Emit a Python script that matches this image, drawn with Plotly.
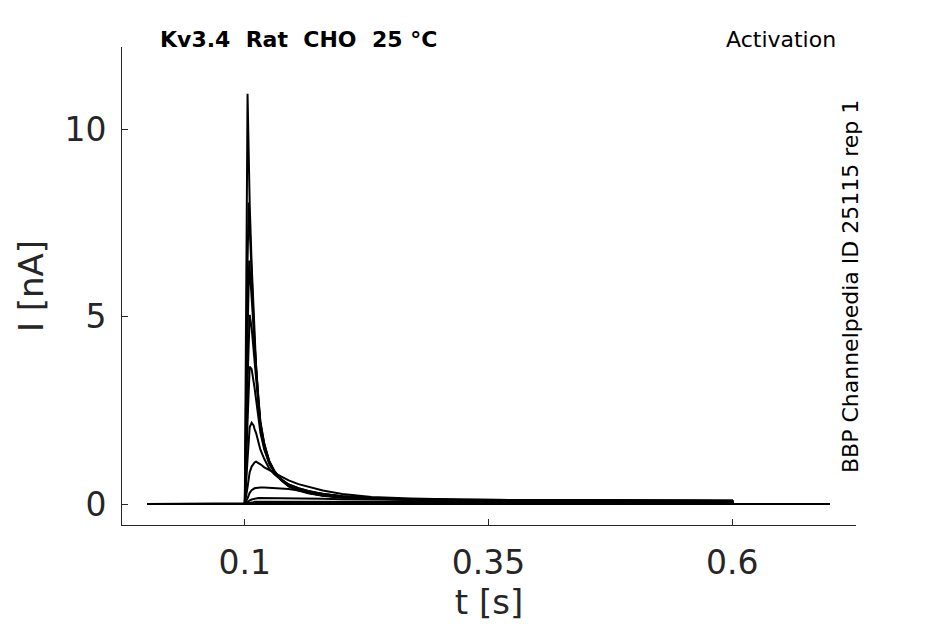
import plotly.graph_objects as go

# sample times [s] shared by all sweeps
TIME = [0.0, 0.1, 0.1028, 0.104, 0.1045, 0.105, 0.107, 0.109, 0.110, 0.1115,
        0.114, 0.116, 0.12, 0.125, 0.13, 0.137, 0.145, 0.155, 0.165, 0.18,
        0.2, 0.23, 0.27, 0.32, 0.4, 0.5, 0.6, 0.6005, 0.65, 0.7]

# current [nA] per sweep
sweep_01 = [0] * 30
sweep_02 = [0, 0, 0.01, 0.01, 0.01, 0.01, 0.02, 0.02, 0.02, 0.02, 0.02, 0.02, 0.02, 0.02, 0.02,
            0.02, 0.02, 0.02, 0.02, 0.02, 0.02, 0.02, 0.02, 0.02, 0.02, 0.02, 0.02, 0, 0, 0]
sweep_03 = [0, 0, 0.02, 0.03, 0.03, 0.04, 0.05, 0.05, 0.06, 0.06, 0.06, 0.06, 0.06, 0.06, 0.06,
            0.06, 0.06, 0.06, 0.06, 0.06, 0.06, 0.06, 0.06, 0.06, 0.05, 0.05, 0.05, 0, 0, 0]
sweep_04 = [0, 0, 0.05, 0.08, 0.09, 0.1, 0.12, 0.14, 0.15, 0.15, 0.16, 0.16, 0.16, 0.16, 0.16,
            0.16, 0.16, 0.15, 0.15, 0.14, 0.13, 0.12, 0.11, 0.1, 0.09, 0.08, 0.08, 0, 0, 0]
sweep_05 = [0, 0, 0.15, 0.25, 0.28, 0.3, 0.37, 0.41, 0.42, 0.43, 0.44, 0.44, 0.44, 0.43, 0.43,
            0.42, 0.4, 0.36, 0.32, 0.26, 0.2, 0.15, 0.12, 0.1, 0.09, 0.08, 0.08, 0, 0, 0]
sweep_06 = [0, 0, 0.45, 0.7, 0.78, 0.85, 1.0, 1.08, 1.11, 1.13, 1.1, 1.06, 0.98, 0.9, 0.84,
            0.74, 0.63, 0.53, 0.46, 0.36, 0.27, 0.19, 0.15, 0.12, 0.1, 0.09, 0.09, 0, 0, 0]
sweep_07 = [0, 0, 1.2, 1.8, 1.95, 2.05, 2.17, 2.1, 2.0, 1.9, 1.65, 1.45, 1.2, 0.95, 0.8,
            0.65, 0.52, 0.42, 0.35, 0.27, 0.21, 0.16, 0.13, 0.11, 0.1, 0.09, 0.09, 0, 0, 0]
sweep_08 = [0, 0, 2.2, 3.3, 3.55, 3.67, 3.6, 3.3, 3.1, 2.8, 2.3, 1.9, 1.45, 1.08, 0.86,
            0.67, 0.52, 0.42, 0.35, 0.27, 0.21, 0.16, 0.13, 0.11, 0.1, 0.09, 0.08, 0, 0, 0]
sweep_09 = [0, 0, 3.3, 4.6, 4.9, 5.05, 4.7, 4.1, 3.8, 3.3, 2.6, 2.05, 1.5, 1.1, 0.87,
            0.66, 0.5, 0.39, 0.32, 0.25, 0.19, 0.15, 0.12, 0.1, 0.09, 0.08, 0.08, 0, 0, 0]
sweep_10 = [0, 0, 4.5, 6.2, 6.5, 6.3, 5.5, 4.6, 4.1, 3.5, 2.7, 2.1, 1.55, 1.12, 0.88,
            0.65, 0.48, 0.37, 0.3, 0.23, 0.18, 0.14, 0.12, 0.1, 0.09, 0.09, 0.08, 0, 0, 0]
sweep_11 = [0, 0, 6.5, 8.05, 7.8, 7.4, 6.0, 4.9, 4.3, 3.6, 2.75, 2.15, 1.6, 1.15, 0.9,
            0.66, 0.48, 0.37, 0.3, 0.23, 0.18, 0.14, 0.12, 0.11, 0.1, 0.09, 0.09, 0, 0, 0]
sweep_12 = [0, 0, 10.95, 9.1, 8.5, 8.0, 6.4, 5.1, 4.5, 3.7, 2.8, 2.2, 1.6, 1.15, 0.88,
            0.64, 0.47, 0.36, 0.29, 0.22, 0.17, 0.14, 0.12, 0.11, 0.1, 0.09, 0.09, 0, 0, 0]

SWEEPS = [sweep_01, sweep_02, sweep_03, sweep_04, sweep_05, sweep_06,
          sweep_07, sweep_08, sweep_09, sweep_10, sweep_11, sweep_12]

X_TICKS = [0.1, 0.35, 0.6]
Y_TICKS = [0, 5, 10]

AXIS_COLOR = '#262626'
FONT = 'DejaVu Sans'

fig = go.Figure()
for sweep in SWEEPS:
    fig.add_trace(go.Scatter(x=TIME, y=sweep, mode='lines',
                             line=dict(color='black', width=2),
                             showlegend=False, hoverinfo='skip'))

axis_style = dict(showline=True, linecolor=AXIS_COLOR, linewidth=1,
                  ticks='inside', ticklen=6, tickcolor=AXIS_COLOR,
                  showgrid=False, zeroline=False, mirror=False,
                  ticklabelstandoff=8,
                  tickfont=dict(family=FONT, size=33, color=AXIS_COLOR),
                  title_font=dict(family=FONT, size=34, color=AXIS_COLOR))

fig.update_xaxes(range=[-0.026, 0.727], tickvals=X_TICKS,
                 ticktext=[str(v) for v in X_TICKS],
                 title_text='t [s]', title_standoff=6, **axis_style)
fig.update_yaxes(range=[-0.56, 12.2], tickvals=Y_TICKS,
                 title_text='I [nA]', title_standoff=10, **axis_style)

# the page body adds an 8 px offset, so the plot box is placed 8 px up/left
fig.add_annotation(text='<b>Kv3.4\u00a0\u00a0Rat\u00a0\u00a0CHO\u00a0\u00a025\u00a0°C</b>',
                   xref='paper', yref='paper',
                   x=(158 - 122) / 734, y=1.0, xanchor='left', yanchor='bottom', yshift=-7,
                   showarrow=False, font=dict(family=FONT, size=22, color='black'))
fig.add_annotation(text='Activation', xref='paper', yref='paper',
                   x=(838 - 122) / 734, y=1.0, xanchor='right', yanchor='bottom', yshift=-7,
                   showarrow=False, font=dict(family=FONT, size=22, color='black'))
fig.add_annotation(text='BBP Channelpedia ID 25115 rep 1', xref='paper', yref='paper',
                   x=(850 - 122) / 734, y=(525 - 287) / 478, textangle=-90,
                   xanchor='center', yanchor='middle',
                   showarrow=False, font=dict(family=FONT, size=22, color='black'))

fig.update_layout(width=945, height=624, plot_bgcolor='white', paper_bgcolor='white',
                  margin=dict(l=114, r=97, t=39, b=107))

fig.write_html('out.html')
